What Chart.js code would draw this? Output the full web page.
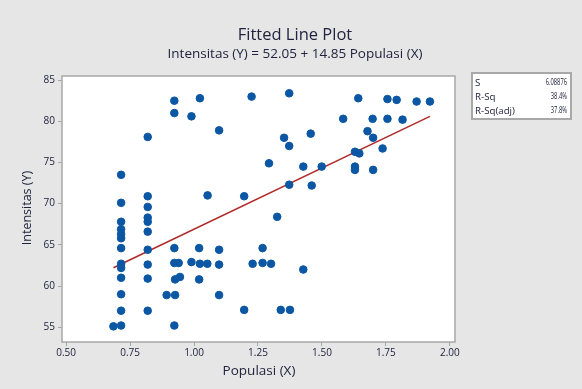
<!DOCTYPE html>
<html>
<head>
<meta charset="utf-8">
<script src="https://cdn.jsdelivr.net/npm/chart.js@4"></script>
<style>
html,body{margin:0;padding:0;background:#e6e6e6;}
canvas{display:block;}
</style>
</head>
<body>
<canvas id="c" width="582" height="389"></canvas>
<script>
// Data
const populasi = [
  0.685,
  0.715,0.715,0.715,0.715,0.715,0.715,0.715,0.715,0.715,0.715,0.715,0.715,0.715,
  0.819,0.819,0.819,0.819,0.819,0.819,0.819,0.819,0.819,0.819,
  0.923,0.923,0.923,0.923,0.940,0.926,0.945,0.893,0.926,0.923,
  0.990,0.990,
  1.023,1.020,1.023,1.020,
  1.052,1.053,
  1.098,1.098,1.098,1.098,
  1.196,1.196,
  1.225,1.229,
  1.268,1.268,
  1.293,1.301,1.325,1.339,1.352,
  1.372,1.372,1.372,1.375,
  1.427,1.427,1.456,1.460,1.499,1.583,
  1.629,1.629,1.629,1.642,1.646,1.678,1.698,
  1.700,1.700,1.737,1.756,1.756,1.792,1.815,1.870,1.922
];
const intensitas = [
  55.1,
  73.5,70.1,67.8,66.9,66.3,65.8,64.6,62.7,62.2,61.0,59.0,57.0,55.2,
  78.1,70.9,69.6,68.3,67.8,66.6,64.4,62.6,60.9,57.0,
  82.5,81.0,64.6,62.8,62.8,60.8,61.1,58.9,58.9,55.2,
  80.6,62.9,
  82.8,64.6,62.7,60.8,
  62.7,71.0,
  78.9,64.4,62.6,58.9,
  70.9,57.1,
  83.0,62.7,
  64.6,62.8,
  74.9,62.7,68.4,57.1,78.0,
  83.4,77.0,72.3,57.1,
  74.5,62.0,78.5,72.2,74.5,80.3,
  76.3,74.5,74.1,82.8,76.1,78.8,80.3,
  78.0,74.1,76.7,82.7,80.3,82.6,80.2,82.4,82.4
];
const intercept = 52.05;
const slope = 14.85;
const xTicks = [0.50,0.75,1.00,1.25,1.50,1.75,2.00];
const yTicks = [55,60,65,70,75,80,85];
const statLabels = ["S","R-Sq","R-Sq(adj)"];
const statValues = ["6.08876","38.4%","37.8%"];

const pts = populasi.map((x,i)=>({x:x,y:intensitas[i]}));
const xMin = Math.min(...populasi), xMax = Math.max(...populasi);
const fitLine = [{x:xMin,y:intercept+slope*xMin},{x:xMax,y:intercept+slope*xMax}];

const FONT = "'Open Sans', 'Noto Sans', sans-serif";
const TXT = '#23233f';

const deco = {
  id:'deco',
  beforeDraw(chart){
    const ctx = chart.ctx, a = chart.chartArea;
    ctx.save();
    ctx.fillStyle = '#e6e6e6';
    ctx.fillRect(0,0,chart.width,chart.height);
    ctx.fillStyle = '#ffffff';
    ctx.fillRect(a.left,a.top,a.right-a.left,a.bottom-a.top);
    ctx.strokeStyle = '#a8a8a8';
    ctx.lineWidth = 1.5;
    ctx.strokeRect(a.left,a.top,a.right-a.left,a.bottom-a.top);
    // stats box
    ctx.fillStyle = '#ffffff';
    ctx.fillRect(472,73,99,46);
    ctx.strokeStyle = '#a8a8a8';
    ctx.lineWidth = 2;
    ctx.strokeRect(472,73,99,46);
    ctx.fillStyle = TXT;
    ctx.textBaseline = 'middle';
    statLabels.forEach((l,i)=>{
      const yy = 83 + i*14;
      ctx.font = '9px ' + FONT;
      ctx.textAlign='left';
      ctx.save();
      ctx.translate(475,yy);
      ctx.scale(1.08,1);
      ctx.fillText(l,0,0);
      ctx.restore();
      ctx.font = '8.5px ' + FONT;
      ctx.save();
      ctx.translate(567,yy);
      ctx.scale(0.68,1);
      ctx.textAlign='right';
      ctx.fillText(statValues[i],0,0);
      ctx.restore();
    });
    // titles
    ctx.textAlign='center';
    ctx.fillStyle = TXT;
    ctx.font = '16.5px ' + FONT;
    ctx.fillText('Fitted Line Plot',295,35);
    ctx.font = '13.5px ' + FONT;
    ctx.fillText('Intensitas (Y) = 52.05 + 14.85 Populasi (X)',295,54);
    ctx.font = '13.5px ' + FONT;
    ctx.fillText('Populasi (X)',259,371);
    ctx.font = '12.5px ' + FONT;
    ctx.translate(27,208);
    ctx.rotate(-Math.PI/2);
    ctx.fillText('Intensitas (Y)',0,0);
    ctx.restore();
  }
};

new Chart(document.getElementById('c'),{
  type:'scatter',
  data:{
    datasets:[
      {type:'line',data:fitLine,borderColor:'#b02a2a',borderWidth:1.5,pointRadius:0,fill:false,order:2},
      {data:pts,backgroundColor:'#0b57a4',borderColor:'#0b57a4',pointRadius:3.8,pointHoverRadius:3.8,order:1}
    ]
  },
  options:{
    responsive:false,
    devicePixelRatio:1,
    animation:false,
    events:[],
    layout:{padding:{left:0,top:76,right:127,bottom:0}},
    plugins:{legend:{display:false},tooltip:{enabled:false},title:{display:false}},
    scales:{
      x:{
        type:'linear',min:0.484,max:2.02,
        afterBuildTicks(s){s.ticks = xTicks.map(v=>({value:v}));},
        afterFit(s){s.height = 47;},
        grid:{drawOnChartArea:false,tickLength:4,color:'#a8a8a8'},
        border:{display:false},
        ticks:{padding:1,color:TXT,font:{family:FONT,size:10},maxRotation:0,autoSkip:false,callback:v=>Number(v).toFixed(2)}
      },
      y:{
        type:'linear',min:53.2,max:85.5,
        afterBuildTicks(s){s.ticks = yTicks.map(v=>({value:v}));},
        afterFit(s){s.width = 62;},
        grid:{drawOnChartArea:false,tickLength:4,color:'#a8a8a8'},
        border:{display:false},
        ticks:{padding:3,color:TXT,font:{family:FONT,size:10},autoSkip:false}
      }
    }
  },
  plugins:[deco]
});
</script>
</body>
</html>
